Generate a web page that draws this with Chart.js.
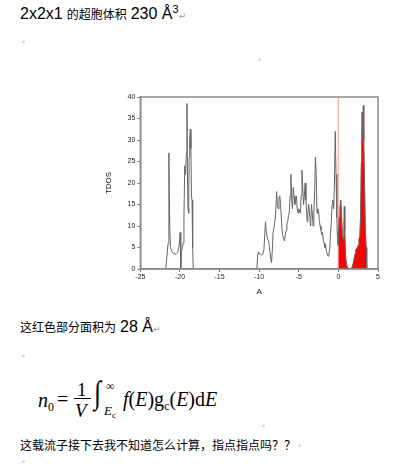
<!DOCTYPE html>
<html>
<head>
<meta charset="utf-8">
<script src="https://cdn.jsdelivr.net/npm/chart.js@4.4.0/dist/chart.umd.min.js"></script>
<style>
body { margin:0; background:#fff; width:404px; height:464px; position:relative; overflow:hidden; }
.t { position:absolute; white-space:nowrap; color:#000; }
.lat { font-family:"Liberation Sans", Arial, sans-serif; font-size:16px; }
.cjk { font-family:"Noto Sans CJK SC", sans-serif; font-size:12px; }
.ret { font-family:"DejaVu Sans", sans-serif; font-size:9px; color:#999; }
.mk { position:absolute; font-family:"DejaVu Sans", sans-serif; font-size:6px; color:#888; }
.f { position:absolute; font-family:"Liberation Serif", "Times New Roman", serif; font-size:20px; white-space:nowrap; line-height:1; }
.i { font-style:italic; }
#chart { position:absolute; left:100px; top:89px; }
</style>
</head>
<body>

<div class="t" style="left:20px;top:3px;"><span class="lat">2x2x1</span> <span class="cjk">的超胞体积</span> <span class="lat">230 Å<sup style="font-size:11px;">3</sup></span><span class="ret">↵</span></div>
<div class="mk" style="left:21px;top:37px;">.ı</div>
<div class="mk" style="left:257px;top:55px;">.ı</div>

<canvas id="chart" width="290" height="212"></canvas>

<div class="t" style="left:20px;top:318px;"><span class="cjk">这红色部分面积为</span> <span class="lat">28 Å</span><span class="ret">↵</span></div>
<div class="mk" style="left:21px;top:351px;">.ı</div>

<div class="f i" style="left:38px;top:390px;">n<span style="font-size:12px;font-style:normal;position:relative;top:4px;">0</span></div>
<div class="f" style="left:57px;top:389px;">=</div>
<div class="f" style="left:77px;top:380px;font-size:19px;">1</div>
<div style="position:absolute;left:74px;top:398px;width:17px;height:1px;background:#000;"></div>
<div class="f i" style="left:75px;top:401px;font-size:19px;">V</div>
<div class="f" style="left:94px;top:376px;font-size:32px;transform:scaleX(0.8);transform-origin:left;">∫</div>
<div class="f" style="left:106px;top:380px;font-size:12px;">∞</div>
<div class="f i" style="left:104px;top:404px;font-size:13px;">E<span style="font-size:9px;font-style:normal;position:relative;top:3px;">c</span></div>
<div class="f" style="left:123px;top:389px;"><span class="i">f</span>(<span class="i">E</span>)g<span style="font-size:12px;position:relative;top:4px;">c</span>(<span class="i">E</span>)d<span class="i">E</span></div>
<div class="mk" style="left:261px;top:421px;">.ı</div>

<div class="t" style="left:20px;top:436px;"><span class="cjk">这载流子接下去我不知道怎么计算，指点指点吗？？</span></div>
<div class="mk" style="left:297px;top:441px;">.ı</div>
<div class="mk" style="left:21px;top:457px;">.ı</div>

<script>
// energy (A) and total DOS; null = gap in the curve
const energy = [-21.8, -21.65, -21.5, -21.4, -21.3, -21.2, -21.0, -20.8, -20.5, -20.3, -20.15, -20.05, -19.98, -19.92, -19.88,
    -19.82, -19.7, -19.6, -19.5, -19.4, -19.3, -19.2, -19.12, -19.05, -18.98, -18.9, -18.85, -18.78, -18.7, -18.62, -18.55, -18.48, -18.4, -18.32,
    -14,
    -10.3, -10.2, -10.1, -10.0, -9.85, -9.7, -9.55, -9.4, -9.3, -9.2, -9.1, -8.95, -8.8, -8.65, -8.55, -8.45, -8.35, -8.25, -8.1, -7.95,
    -7.8, -7.7, -7.6, -7.5, -7.4, -7.3, -7.15, -7.05, -6.9, -6.8, -6.7, -6.6, -6.5, -6.4, -6.3, -6.2, -6.1, -6.0, -5.9, -5.8,
    -5.7, -5.6, -5.5, -5.4, -5.3, -5.2, -5.1, -5.0, -4.9, -4.8, -4.7, -4.6, -4.5, -4.4, -4.3, -4.2, -4.1, -4.0, -3.95, -3.85,
    -3.75, -3.6, -3.5, -3.4, -3.3, -3.2, -3.1, -3.0, -2.9, -2.8, -2.7, -2.6, -2.5, -2.4, -2.3, -2.2, -2.1, -2.0, -1.9, -1.8,
    -1.7, -1.6, -1.5, -1.4, -1.3, -1.2, -1.1, -1.0, -0.9, -0.8, -0.7, -0.6, -0.5, -0.4, -0.3, -0.2, -0.1, -0.05,
    0, 0.1, 0.2, 0.3, 0.4, 0.5, 0.6, 0.7, 0.75, 0.8, 0.9, 1.0, 1.1, 1.3, 1.6, 1.75, 1.9, 2.0, 2.1, 2.2, 2.35, 2.5, 2.6, 2.7,
    2.8, 2.9, 2.95, 3.0, 3.05, 3.1, 3.15, 3.2, 3.3, 3.4, 3.5, 3.55, 3.6];
const tdos = [0, 3, 6, 27, 10, 5, 4, 3.6, 3.4, 3.8, 5, 6.5, 8.5, 4, 0,
    4, 5, 6, 12, 24, 22, 27, 38.5, 20, 14, 13, 26, 30, 32.5, 28, 17, 16, 5, 0,
    null,
    0, 3, 4, 3.5, 3.4, 3.2, 3.5, 4.5, 8, 11, 8.5, 7, 6.5, 4, 2.5, 1.5, 4, 8.5, 10, 12,
    18, 15, 14, 16.5, 17, 15, 10, 8, 7, 6.5, 8, 9, 10.5, 11, 12.5, 13, 17, 22, 16, 14,
    19, 17, 15, 16, 17, 14, 13, 14, 13.5, 13, 17, 23, 19, 15, 17, 20, 16, 13, 11, 13,
    15, 12, 10, 15, 13, 10, 13, 18, 26, 22, 13, 14, 13.5, 11, 10, 9, 8, 8.5, 6.5, 6,
    5, 5.5, 4, 3.5, 3, 3.5, 4.5, 8, 11, 15, 16, 14, 20, 32, 22, 12, 6, 5.5,
    7, 12, 14, 16, 12, 8, 7, 9, 14.5, 9, 3, 1.5, 0.5, 0, 0, 0.5, 1.5, 2.5, 3.5, 4.5, 4.8, 5.5, 7, 7.5,
    12, 25, 30, 36.5, 32, 30, 38, 30, 20, 9, 5, 5, 0];
const fermiLevel = 0;
const xTicks = [-25, -20, -15, -10, -5, 0, 5];
const yTicks = [0, 5, 10, 15, 20, 25, 30, 35, 40];

const curve = energy.map((e, i) => ({ x: e, y: tdos[i] }));
const filled = curve.filter(p => p.x >= fermiLevel);

const boxAndFermi = {
    id: 'boxAndFermi',
    beforeDatasetsDraw(chart) {
        const a = chart.chartArea, ctx = chart.ctx;
        const fx = chart.scales.x.getPixelForValue(fermiLevel);
        ctx.save();
        ctx.strokeStyle = '#ffb4b4';
        ctx.lineWidth = 1.5;
        ctx.beginPath();
        ctx.moveTo(fx, a.top + 1);
        ctx.lineTo(fx, a.bottom);
        ctx.stroke();
        ctx.restore();
    },
    afterDraw(chart) {
        const a = chart.chartArea, ctx = chart.ctx;
        ctx.save();
        ctx.strokeStyle = '#8a8a8a';
        ctx.lineWidth = 1.5;
        ctx.strokeRect(a.left, a.top, a.right - a.left, a.bottom - a.top);
        ctx.restore();
    }
};

new Chart(document.getElementById('chart'), {
    type: 'scatter',
    data: {
        datasets: [{
            data: curve,
            showLine: true,
            borderColor: '#666',
            borderWidth: 1,
            pointRadius: 0,
            spanGaps: false,
            order: 0
        }, {
            data: filled,
            showLine: true,
            borderColor: '#e00000',
            borderWidth: 0.5,
            backgroundColor: '#ff0000',
            fill: 'origin',
            pointRadius: 0,
            order: 1
        }]
    },
    options: {
        responsive: false,
        animation: false,
        devicePixelRatio: 1,
        layout: { padding: { top: 8, right: 12, left: 0, bottom: 0 } },
        plugins: { legend: { display: false }, tooltip: { enabled: false } },
        scales: {
            x: {
                type: 'linear', min: -25, max: 5,
                afterBuildTicks: s => { s.ticks = xTicks.map(v => ({ value: v })); },
                ticks: { font: { family: 'Liberation Sans', size: 7 }, color: '#222', padding: 1, maxRotation: 0 },
                grid: { drawOnChartArea: false, drawTicks: true, tickLength: 3, color: '#777' },
                border: { color: '#8a8a8a', width: 1.5 },
                title: { display: true, text: 'A', font: { family: 'Liberation Sans', size: 8 }, color: '#111', padding: { top: 5 } }
            },
            y: {
                type: 'linear', min: 0, max: 40,
                afterBuildTicks: s => { s.ticks = yTicks.map(v => ({ value: v })); },
                ticks: { font: { family: 'Liberation Sans', size: 7 }, color: '#222', padding: 2 },
                grid: { drawOnChartArea: false, drawTicks: true, tickLength: 3, color: '#777' },
                border: { color: '#8a8a8a', width: 1.5 },
                title: { display: true, text: 'TDOS', font: { family: 'Liberation Sans', size: 8 }, color: '#111', padding: { bottom: 12 } }
            }
        }
    },
    plugins: [boxAndFermi]
});
</script>
</body>
</html>
